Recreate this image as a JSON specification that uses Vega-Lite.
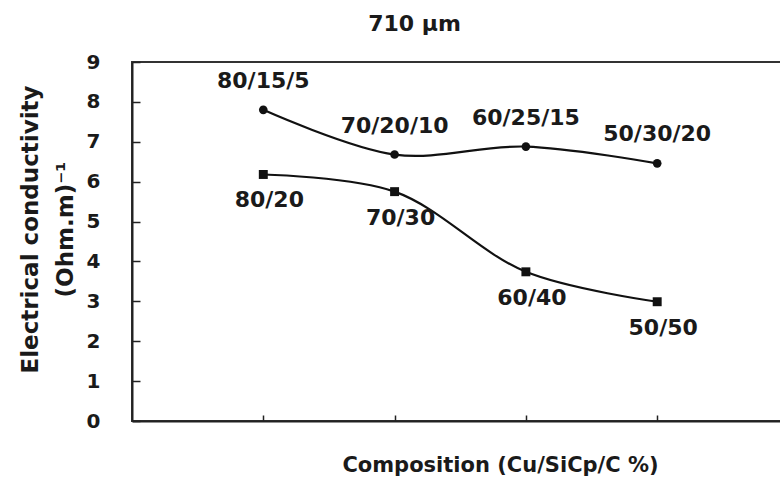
{
  "$schema": "https://vega.github.io/schema/vega-lite/v6.json",
  "autosize": "none",
  "width": 649,
  "height": 359,
  "padding": {"left": 132, "top": 62, "right": 0, "bottom": 63},
  "background": "white",
  "title": {
    "text": "710 µm",
    "font": "DejaVu Sans",
    "fontSize": 22,
    "fontWeight": "bold",
    "color": "#1a1a1a",
    "dx": -42,
    "offset": 16
  },
  "config": {
    "view": {"stroke": "#333333", "strokeWidth": 2},
    "axis": {"grid": false}
  },
  "datasets": {
    "pts": [
      {"pos": 1, "value": 7.8, "label": "80/15/5", "series": "ternary"},
      {"pos": 2, "value": 6.68, "label": "70/20/10", "series": "ternary"},
      {"pos": 3, "value": 6.88, "label": "60/25/15", "series": "ternary"},
      {"pos": 4, "value": 6.46, "label": "50/30/20", "series": "ternary"},
      {"pos": 1, "value": 6.18, "label": "80/20", "series": "binary"},
      {"pos": 2, "value": 5.75, "label": "70/30", "series": "binary"},
      {"pos": 3, "value": 3.74, "label": "60/40", "series": "binary"},
      {"pos": 4, "value": 2.99, "label": "50/50", "series": "binary"}
    ]
  },
  "data": {"name": "pts"},
  "encoding": {
    "x": {
      "field": "pos",
      "type": "quantitative",
      "scale": {"domain": [0, 4.943], "nice": false, "zero": false},
      "axis": {
        "title": "Composition (Cu/SiCp/C %)",
        "titleFont": "DejaVu Sans",
        "titleFontSize": 21,
        "titleFontWeight": "bold",
        "titleColor": "#1a1a1a",
        "titleX": 368,
        "titleY": 44,
        "titleBaseline": "middle",
        "labels": false,
        "values": [1, 2, 3, 4],
        "tickSize": -6,
        "tickColor": "#222222",
        "tickWidth": 1.5,
        "domainColor": "#222222",
        "domainWidth": 2
      }
    },
    "y": {
      "field": "value",
      "type": "quantitative",
      "scale": {"domain": [0, 9], "nice": false},
      "axis": {
        "title": ["Electrical conductivity", "(Ohm.m)⁻¹"],
        "titleFont": "DejaVu Sans",
        "titleFontSize": 23,
        "titleFontWeight": "bold",
        "titleColor": "#1a1a1a",
        "titleAngle": -90,
        "titleLineHeight": 35,
        "titleX": -102,
        "titleY": 167,
        "titleBaseline": "middle",
        "titleAlign": "center",
        "values": [0, 1, 2, 3, 4, 5, 6, 7, 8, 9],
        "labelFont": "DejaVu Sans",
        "labelFontSize": 20,
        "labelFontWeight": "bold",
        "labelColor": "#1a1a1a",
        "labelPadding": 40,
        "tickSize": -8,
        "tickColor": "#222222",
        "tickWidth": 1.5,
        "domainColor": "#222222",
        "domainWidth": 2
      }
    }
  },
  "layer": [
    {
      "mark": {"type": "line", "interpolate": "catmull-rom", "color": "#111111", "strokeWidth": 2.2},
      "encoding": {"detail": {"field": "series"}}
    },
    {
      "transform": [{"filter": "datum.series === 'ternary'"}],
      "mark": {"type": "point", "shape": "circle", "filled": true, "color": "#111111", "size": 75, "opacity": 1}
    },
    {
      "transform": [{"filter": "datum.series === 'binary'"}],
      "mark": {"type": "point", "shape": "square", "filled": true, "color": "#111111", "size": 80, "opacity": 1}
    },
    {
      "transform": [{"filter": "datum.series === 'ternary'"}],
      "mark": {"type": "text", "font": "DejaVu Sans", "fontSize": 22, "fontWeight": "bold", "color": "#1a1a1a", "dy": -29, "baseline": "middle"},
      "encoding": {"text": {"field": "label"}}
    },
    {
      "transform": [{"filter": "datum.series === 'binary'"}],
      "mark": {"type": "text", "font": "DejaVu Sans", "fontSize": 22, "fontWeight": "bold", "color": "#1a1a1a", "dy": 26, "dx": 6, "baseline": "middle"},
      "encoding": {"text": {"field": "label"}}
    }
  ]
}
